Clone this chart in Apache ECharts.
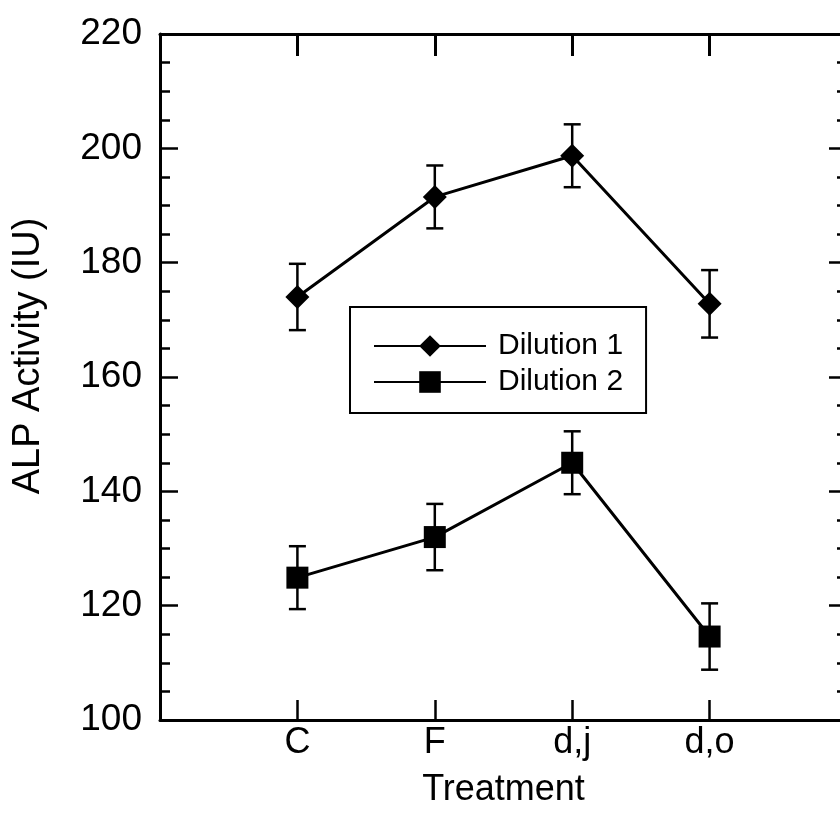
<!DOCTYPE html>
<html><head><meta charset="utf-8">
<script src="https://cdn.jsdelivr.net/npm/echarts@6/dist/echarts.min.js"></script>
<style>html,body{margin:0;padding:0;background:#fff}#c{width:840px;height:831px}</style>
</head><body><div id="c"></div>
<script>
const categories = ['C', 'F', 'd,j', 'd,o'];
const xPositions = [1, 2, 3, 4];
const dilution1 = [174.0, 191.5, 198.7, 172.8];
const dilution1Err = [5.8, 5.5, 5.5, 5.9];
const dilution2 = [124.9, 132.0, 145.0, 114.6];
const dilution2Err = [5.5, 5.8, 5.5, 5.8];
const yTicks = [100, 120, 140, 160, 180, 200, 220];

const FONT = "'Liberation Sans', Arial, Helvetica, sans-serif";
const chart = echarts.init(document.getElementById('c'), null, {renderer: 'canvas'});

function errData(means, errs) {
  return xPositions.map((x, i) => [x, means[i] - errs[i], means[i] + errs[i]]);
}
function renderErr(params, api) {
  const x = api.value(0);
  const lo = api.coord([x, api.value(1)]);
  const hi = api.coord([x, api.value(2)]);
  const h = 8.5;
  const st = {stroke: '#000', lineWidth: 2.5};
  return {type: 'group', children: [
    {type: 'line', shape: {x1: lo[0], y1: lo[1], x2: hi[0], y2: hi[1]}, style: st},
    {type: 'line', shape: {x1: lo[0] - h, y1: lo[1], x2: lo[0] + h, y2: lo[1]}, style: st},
    {type: 'line', shape: {x1: hi[0] - h, y1: hi[1], x2: hi[0] + h, y2: hi[1]}, style: st}
  ]};
}

function xAxisBase() {
  return {
    type: 'value', min: 0, max: 5, interval: 1,
    axisLine: {show: true, onZero: false, lineStyle: {color: '#000', width: 3}},
    splitLine: {show: false},
    axisTick: {show: true, inside: true, length: 20, lineStyle: {color: '#000', width: 2.5}}
  };
}
function yAxisBase() {
  return {
    type: 'value', min: 100, max: 220, interval: 20,
    axisLine: {show: true, onZero: false, lineStyle: {color: '#000', width: 3}},
    splitLine: {show: false},
    axisTick: {show: true, inside: true, length: 18, lineStyle: {color: '#000', width: 2.5}},
    minorTick: {show: true, splitNumber: 4, length: 10, lineStyle: {color: '#000', width: 2.5}}
  };
}

chart.setOption({
  animation: false,
  backgroundColor: '#fff',
  textStyle: {fontFamily: FONT},
  grid: {left: 160, top: 34, width: 687, height: 686, containLabel: false, outerBoundsMode: 'none'},
  legend: {
    data: ['Dilution 1', 'Dilution 2'],
    orient: 'vertical', left: 350, top: 307,
    padding: [24, 23, 16, 23],
    itemWidth: 112, itemHeight: 27, itemGap: 6,
    borderColor: '#000', borderWidth: 2, borderRadius: 0,
    backgroundColor: '#fff',
    lineStyle: {width: 2, color: '#000'},
    textStyle: {fontSize: 30, color: '#000', fontFamily: FONT, padding: [0, 0, 0, 7]}
  },
  xAxis: [
    Object.assign(xAxisBase(), {
      position: 'bottom',
      axisLabel: {show: true, fontSize: 36, color: '#000', margin: 5, fontFamily: FONT,
        formatter: v => (v >= 1 && v <= categories.length) ? categories[v - 1] : ''},
      name: 'Treatment', nameLocation: 'middle', nameGap: 52,
      nameTextStyle: {fontSize: 36, color: '#000', fontFamily: FONT}
    }),
    Object.assign(xAxisBase(), {position: 'top', axisLabel: {show: false},
      axisTick: {show: true, inside: true, length: 22, lineStyle: {color: '#000', width: 3}}})
  ],
  yAxis: [
    Object.assign(yAxisBase(), {
      position: 'left',
      axisLabel: {show: true, fontSize: 37, color: '#000', margin: 18, fontFamily: FONT,
        formatter: v => yTicks.indexOf(v) >= 0 ? String(v) : ''},
      name: 'ALP Activity (IU)', nameLocation: 'middle', nameGap: 112,
      nameTextStyle: {fontSize: 38, color: '#000', fontFamily: FONT, padding: [0, 0, 0, 42]}
    }),
    Object.assign(yAxisBase(), {position: 'right', axisLabel: {show: false}})
  ],
  series: [
    {type: 'custom', name: 'err1', renderItem: renderErr, data: errData(dilution1, dilution1Err), z: 1, silent: true},
    {type: 'custom', name: 'err2', renderItem: renderErr, data: errData(dilution2, dilution2Err), z: 1, silent: true},
    {type: 'line', name: 'Dilution 1', data: xPositions.map((x, i) => [x, dilution1[i]]),
      symbol: 'diamond', symbolSize: 24, z: 3,
      lineStyle: {color: '#000', width: 3}, itemStyle: {color: '#000'}},
    {type: 'line', name: 'Dilution 2', data: xPositions.map((x, i) => [x, dilution2[i]]),
      symbol: 'rect', symbolSize: 22, z: 3,
      lineStyle: {color: '#000', width: 3}, itemStyle: {color: '#000'}}
  ]
});
</script></body></html>
